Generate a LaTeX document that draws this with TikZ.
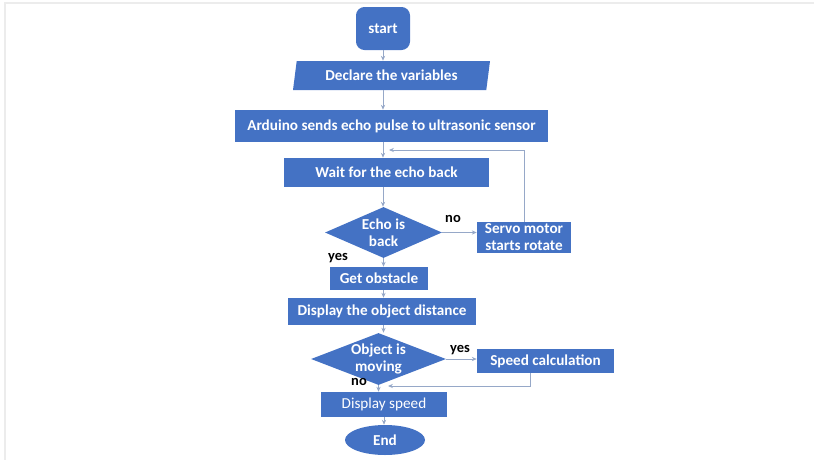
\documentclass[tikz,border=0pt]{standalone}
\usepackage{fontspec}
\setmainfont{Carlito}
\usetikzlibrary{shapes.geometric,arrows.meta,calc}
\definecolor{boxblue}{RGB}{68,114,196}
\definecolor{linkgray}{RGB}{150,168,200}
\newcommand{\pxl}{0.025cm}
\tikzset{
  box/.style={rectangle, fill=boxblue, text=white, font=\fontsize{10.8}{12}\selectfont\bfseries,
    inner sep=0pt, align=center},
  decide/.style={diamond, fill=boxblue, inner sep=0pt},
  decidetext/.style={text=white, font=\fontsize{10.8}{12}\selectfont\bfseries, inner sep=0pt, align=center},
  link/.style={draw=linkgray, line width=0.6pt, -{Stealth[length=3.5pt,width=3pt]}},
  tag/.style={font=\fontsize{10.3}{12}\selectfont\bfseries, inner sep=0pt}
}
\begin{document}
\begin{tikzpicture}[x=\pxl, y=-\pxl]
    \useasboundingbox (0,0) rectangle (814,460);
    \draw[gray!15, line width=0.8pt] (5,460) -- (5,3) -- (814,3);
    % nodes
    \node[box, rounded corners=6pt, minimum width=54*\pxl, minimum height=43*\pxl] (start) at (383,28.5) {start};
    \node[box, trapezium, trapezium left angle=71, trapezium right angle=109, trapezium stretches body,
        minimum width=197*\pxl, minimum height=29*\pxl] (declare) at (391.5,75.5) {Declare the variables};
    \node[box, minimum width=313*\pxl, minimum height=32*\pxl] (arduino) at (391.5,126) {Arduino sends echo pulse to ultrasonic sensor};
    \node[box, minimum width=205*\pxl, minimum height=29*\pxl] (wait) at (386.5,172.5) {Wait for the echo back};
    \node[decide, minimum width=117*\pxl, minimum height=51*\pxl] (echo) at (383.5,232.5) {};
    \node[decidetext] (echotxt) at (echo) {Echo is\\back};
    \node[box, minimum width=94*\pxl, minimum height=31*\pxl] (servo) at (524,237.5) {Servo motor\\starts rotate};
    \node[box, minimum width=98*\pxl, minimum height=23*\pxl] (obstacle) at (379,278.5) {Get obstacle};
    \node[box, minimum width=188*\pxl, minimum height=27*\pxl] (distance) at (382,311.5) {Display the object distance};
    \node[decide, minimum width=135*\pxl, minimum height=52*\pxl] (moving) at (378.5,359) {};
    \node[decidetext] (movingtxt) at (moving) {Object is\\moving};
    \node[box, minimum width=137*\pxl, minimum height=24*\pxl] (speedcalc) at (545.5,361) {Speed calculation};
    \node[box, font=\fontsize{10.8}{12}\selectfont, minimum width=126*\pxl, minimum height=25*\pxl] (speed) at (384,404.5) {Display speed};
    \node[box, ellipse, minimum width=80*\pxl, minimum height=30*\pxl] (end) at (385,440) {End};
    % labels
    \node[tag] (echono) at (453,219) {no};
    \node[tag] (echoyes) at (338,258) {yes};
    \node[tag] (movyes) at (460,350) {yes};
    \node[tag] (movno) at (359,382) {no};
    \coordinate (loopin) at (389,150);
    \coordinate (backin) at (388,386);
    % connectors
    \draw[link] (start.south) -- (start.south |- declare.north);
    \draw[link] (start.south |- declare.south) -- (start.south |- arduino.north);
    \draw[link] (start.south |- arduino.south) -- (start.south |- wait.north);
    \draw[link] (start.south |- wait.south) -- (start.south |- echo.north);
    \draw[link] (echo.south) -- (echo.south |- obstacle.north);
    \draw[link] (echo.south |- obstacle.south) -- (echo.south |- distance.north);
    \draw[link] (echo.south |- distance.south) -- (echo.south |- moving.north);
    \draw[link] (echo.east) -- (servo.west |- echo.east);
    \draw[link] (servo.north) |- (loopin);
    \draw[link] (moving.east) -- (speedcalc.west |- moving.east);
    \draw[link] (moving.south) -- (moving.south |- speed.north);
    \draw[link] (speedcalc.south -| 530,0) |- (backin);
    \draw[link] (speed.south) -- (speed.south |- end.north);
\end{tikzpicture}
\end{document}
